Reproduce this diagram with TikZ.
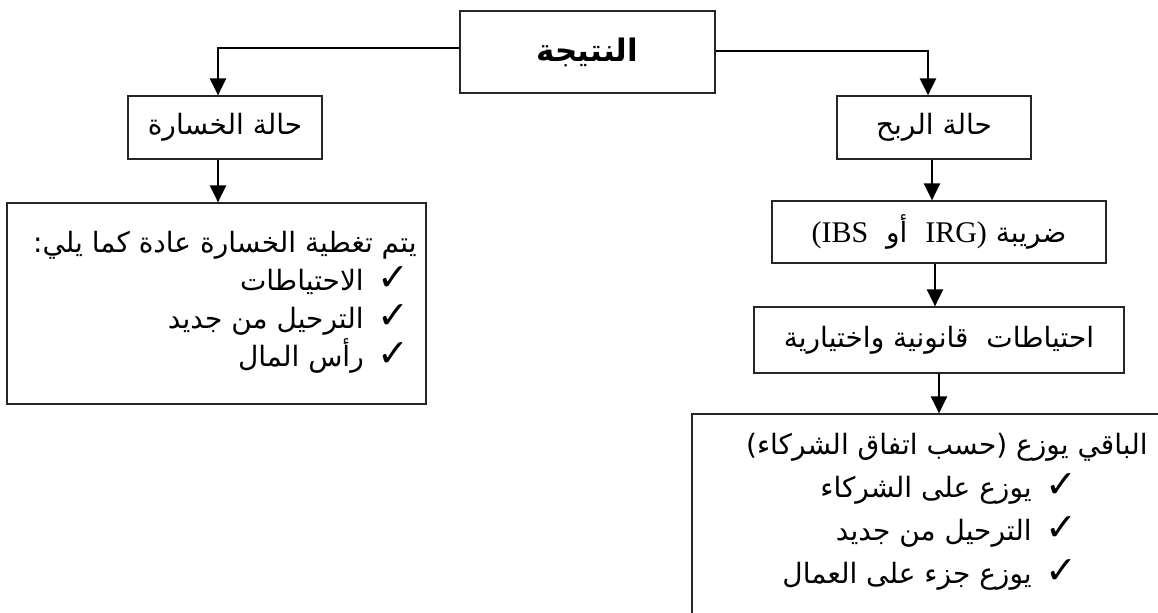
\documentclass[tikz,border=0pt]{standalone}
\usepackage{fontspec}
\setmainfont{Liberation Serif}
\newfontfamily\arabicfont[Script=Arabic]{DejaVu Sans}
\newfontfamily\plainsans{DejaVu Sans}
\usetikzlibrary{arrows.meta,positioning}
\TeXXeTstate=1
\newcommand{\ar}[1]{{\arabicfont\beginR #1\endR}}
\newcommand{\ps}[1]{{\plainsans #1}}
\newcommand{\chk}{{\plainsans\bfseries\fontsize{19}{18}\selectfont ✓}\hspace{7pt}}

\begin{document}
\begin{tikzpicture}[x=0.5pt,y=-0.5pt,
  box/.style={draw=black!85,line width=0.6pt,inner sep=0pt,font=\fontsize{14}{18}\selectfont},
  txt/.style={inner sep=0pt,anchor=east,text height=12pt,text depth=4pt,font=\fontsize{14}{18}\selectfont},
  link/.style={line width=1.25pt,-{Triangle[width=8pt,length=8.5pt]}}]
  \path[use as bounding box,clip] (0,0) rectangle (1158,613);

  % top of the tree
  \node[box,minimum width=127.5pt,minimum height=41pt,font=\fontsize{15.5}{18}\selectfont\bfseries] (res) at (587.5,52) {\ar{النتيجة}};

  % the two cases
  \node[box,minimum width=97pt,minimum height=31.5pt] (loss) at (225,127.5) {\ar{حالة الخسارة}};
  \node[box,minimum width=97pt,minimum height=31.5pt] (profit) at (934,127.5) {\ar{حالة الربح}};

  % loss branch
  \node[box,minimum width=209.5pt,minimum height=100.5pt] (cover) at (216.5,303.5) {};
  \node[txt] (cover1) at (417,245) {\ar{يتم تغطية الخسارة عادة كما يلي\ps{:}}};
  \node[txt] (cover2) at (410,283) {\ar{\chk الاحتياطات}};
  \node[txt] (cover3) at (410,321) {\ar{\chk الترحيل من جديد}};
  \node[txt] (cover4) at (410,359) {\ar{\chk رأس المال}};

  % profit branch
  \node[box,minimum width=167pt,minimum height=31pt] (tax) at (939,232)
    {\ar{ضريبة \beginL{\rmfamily\fontsize{15}{18}\selectfont IRG)}\endL\ \ أو \ \beginL{\rmfamily\fontsize{15}{18}\selectfont (IBS}\endL}};
  \node[box,minimum width=185pt,minimum height=33pt] (resv) at (939,340) {\ar{احتياطات \ قانونية واختيارية}};
  \node[box,minimum width=244pt,minimum height=113pt] (rest) at (936,527) {};
  \node[txt] (rest1) at (1148,447) {\ar{الباقي يوزع \ps{)}حسب اتفاق الشركاء\ps{(}}};
  \node[txt] (rest2) at (1078,490) {\ar{\chk يوزع على الشركاء}};
  \node[txt] (rest3) at (1078,533) {\ar{\chk الترحيل من جديد}};
  \node[txt] (rest4) at (1078,576) {\ar{\chk يوزع جزء على العمال}};

  % connectors
  \draw[link] ([yshift=2pt]res.west) -| ([xshift=-3.5pt]loss.north);
  \draw[link] ([yshift=0.5pt]res.east) -| ([xshift=-3pt]profit.north);
  \draw[link] ([xshift=-3.5pt]loss.south) -- ([xshift=-3.5pt]loss.south |- cover.north);
  \draw[link] ([xshift=-1pt]profit.south) -- ([xshift=-1pt]profit.south |- tax.north);
  \draw[link] ([xshift=-2pt]tax.south) -- ([xshift=-2pt]tax.south |- resv.north);
  \draw[link] (resv.south) -- (resv.south |- rest.north);
\end{tikzpicture}
\end{document}
